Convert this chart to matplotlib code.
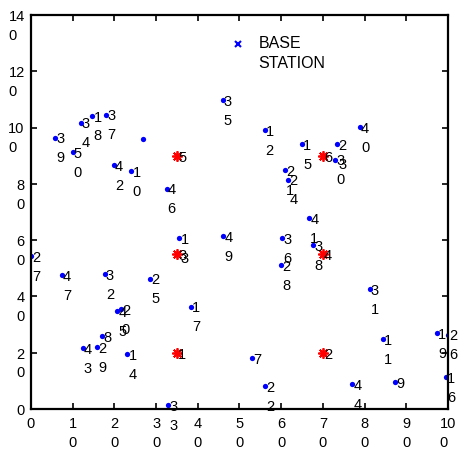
import matplotlib
matplotlib.use("Agg")
import numpy as np
import matplotlib.pyplot as plt
from matplotlib.lines import Line2D
from matplotlib.legend_handler import HandlerLine2D
from matplotlib.transforms import ScaledTranslation

plt.rcParams['font.family'] = ['Liberation Sans', 'DejaVu Sans']

# ---- data ----
node_ids = ["7", "8", "9", "10", "11", "12", "13", "14", "15", "16",
            "17", "18", "19", "20", "21", "22", "23", "24", "25", "26",
            "27", "28", "29", "30", "31", "32", "33", "34", "35", "36",
            "37", "38", "39", "40", "41", "42", "43", "44", "45", "46",
            "47", "", "49", "50"]
node_x = [53.0, 17.0, 87.3, 24.1, 84.4, 56.0, 35.6, 23.1, 65.0, 99.5,
          38.4, 14.7, 97.4, 21.5, 60.9, 56.2, 73.5, 61.7, 28.5, 100.0,
          0.0, 60.0, 15.9, 73.0, 81.2, 17.7, 32.9, 11.9, 46.0, 60.2,
          18.1, 67.7, 5.8, 78.9, 66.7, 19.9, 12.4, 77.0, 20.7, 32.5,
          7.4, 26.8, 46.1, 10.0]
node_y = [18.2, 26.0, 9.5, 84.5, 24.8, 99.0, 60.6, 19.5, 94.0, 11.3,
          36.4, 104.2, 27.0, 35.4, 85.0, 8.0, 94.0, 81.5, 46.3, 26.4,
          54.4, 51.2, 22.0, 88.6, 42.5, 47.9, 1.3, 101.8, 109.8, 60.6,
          104.6, 58.2, 96.4, 100.1, 67.7, 86.7, 21.5, 8.8, 34.7, 78.3,
          47.5, 96.0, 61.4, 91.4]

bs_ids = ["1", "2", "3", "4", "5", "6"]
bs_x = [35, 70, 35, 70, 35, 70]
bs_y = [20, 20, 55, 55, 90, 90]

x_ticks = [0, 10, 20, 30, 40, 50, 60, 70, 80, 90, 100]
x_ticklabels = ["0", "1\n0", "2\n0", "3\n0", "4\n0", "5\n0", "6\n0",
                "7\n0", "8\n0", "9\n0", "10\n0"]
y_ticks = [0, 20, 40, 60, 80, 100, 120, 140]
y_ticklabels = ["0", "2\n0", "4\n0", "6\n0", "8\n0", "10\n0", "12\n0", "14\n0"]

legend_label = "BASE\nSTATION"


class FirstLineHandler(HandlerLine2D):
    """Places the legend marker level with the first line of a 2-line label."""
    def __init__(self, lift_pt, **kw):
        super().__init__(**kw)
        self.lift_pt = lift_pt

    def create_artists(self, legend, orig_handle, xdescent, ydescent,
                       width, height, fontsize, trans):
        arts = super().create_artists(legend, orig_handle, xdescent, ydescent,
                                      width, height, fontsize, trans)
        for a in arts:
            a.set_ydata(np.asarray(a.get_ydata(), float) + self.lift_pt)
        return arts


# ---- figure ----
fig = plt.figure(figsize=(4.60, 4.49), dpi=100)
ax = fig.add_axes([31/460, 1-409/449, (448-31)/460, (409-15)/449])

ax.plot(node_x, node_y, linestyle='none', marker='o', markersize=3.8,
        markeredgewidth=0, color='blue')
ax.plot(bs_x, bs_y, linestyle='none', marker=(8, 2, 0), markersize=7.5,
        markeredgewidth=1.3, color='red')

lab_fs = 10.5
lift = 0.357 * lab_fs   # puts the first line's digit centre on the anchor
ls = 1.45
for lx, ly, lt in zip(node_x, node_y, node_ids):
    if lt:
        ax.annotate("\n".join(lt), (lx, ly), xytext=(0.8, lift),
                    textcoords='offset points', ha='left', va='top',
                    fontsize=lab_fs, linespacing=ls, annotation_clip=False)
for lx, ly, lt in zip(bs_x, bs_y, bs_ids):
    ax.annotate(lt, (lx, ly), xytext=(0.8, lift), textcoords='offset points',
                ha='left', va='top', fontsize=lab_fs)

ax.set_xlim(0, 100)
ax.set_ylim(0, 140)
ax.set_xticks(x_ticks, labels=x_ticklabels)
ax.set_yticks(y_ticks, labels=y_ticklabels)
ax.tick_params(direction='in', length=4, width=1.2, top=True, right=True,
               labelsize=lab_fs)
ax.tick_params(axis='x', pad=6)
ax.tick_params(axis='y', pad=4.5)
for tk in ax.xaxis.get_major_ticks():
    tk.label1.set_multialignment('left')
    tk.label1.set_linespacing(ls)
yoff = ScaledTranslation(0, lift / 72, fig.dpi_scale_trans)
for tk in ax.yaxis.get_major_ticks():
    tk.label1.set_multialignment('left')
    tk.label1.set_linespacing(ls)
    tk.label1.set_va('top')
    tk.label1.set_transform(tk.label1.get_transform() + yoff)
for sp in ax.spines.values():
    sp.set_linewidth(1.6)

handle = Line2D([], [], linestyle='none', marker='x', markersize=4,
                markeredgewidth=1.5, color='blue', label=legend_label)
leg = ax.legend(handles=[handle], loc='upper left',
                bbox_to_anchor=(0.481, 0.946), frameon=False, borderpad=0,
                borderaxespad=0, handlelength=0.8, handletextpad=0.9,
                fontsize=11.5,
                handler_map={Line2D: FirstLineHandler(7.2)})
for t in leg.get_texts():
    t.set_linespacing(1.4)

fig.savefig("out.png", dpi=100)
